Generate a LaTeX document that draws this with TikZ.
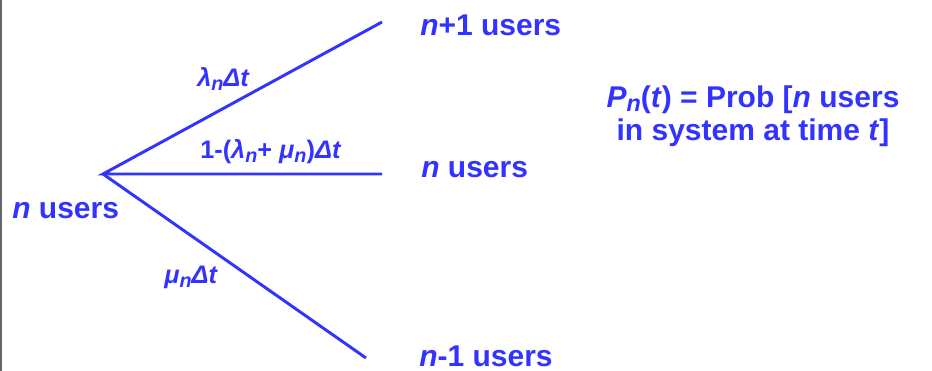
\documentclass[tikz,border=0pt]{standalone}
\usepackage{fontspec}
\setmainfont{Liberation Sans}
\usetikzlibrary{positioning}
\definecolor{ink}{HTML}{3333FF}
\definecolor{edge}{HTML}{666666}
\newcommand{\iv}[1]{\textit{#1}}
\newcommand{\subn}{\raisebox{-0.3ex}{\scalebox{0.78}{\textit{n}}}}
\tikzset{
  state/.style={inner sep=0pt, text=ink, anchor=base west,
                font=\bfseries\fontsize{22.5}{25}\selectfont},
  rate/.style={inner sep=0pt, text=ink, anchor=base west,
               font=\bfseries\fontsize{19}{22}\selectfont},
  branch/.style={draw=ink, line width=2.2pt},
}
\begin{document}
\begin{tikzpicture}[x=0.75pt, y=-0.75pt]
\useasboundingbox (0,0) rectangle (932,371);
\draw[edge, line width=1.2pt] (0.8,0) -- (0.8,371);
\coordinate (src) at (103,174);
\coordinate (up) at (382,22);
\coordinate (same) at (382,174);
\coordinate (down) at (366,358);
\draw[branch] (up) -- (src) -- (same);
\draw[branch] (src) -- (down);
\node[state] (start) at (12,218) {\iv{n} users};
\node[state] (plus) at (420,35) {\iv{n}+1 users};
\node[state] (stay) at (421,177) {\iv{n} users};
\node[state] (minus) at (419,366) {\iv{n}-1 users};
\node[rate] (lam) at (197,86) {\iv{λ}\subn\iv{Δt}};
\node[rate] (hold) at (200,158) {1-(\iv{λ}\subn+ \iv{μ}\subn)\iv{Δt}};
\node[rate] (mu) at (164,283) {\iv{μ}\subn\iv{Δt}};
\node[state, anchor=north, align=center] (prob) at (753,85)
 {\iv{P}\subn(\iv{t}) = Prob [\iv{n} users\\ in system at time \iv{t}]};
\end{tikzpicture}
\end{document}
